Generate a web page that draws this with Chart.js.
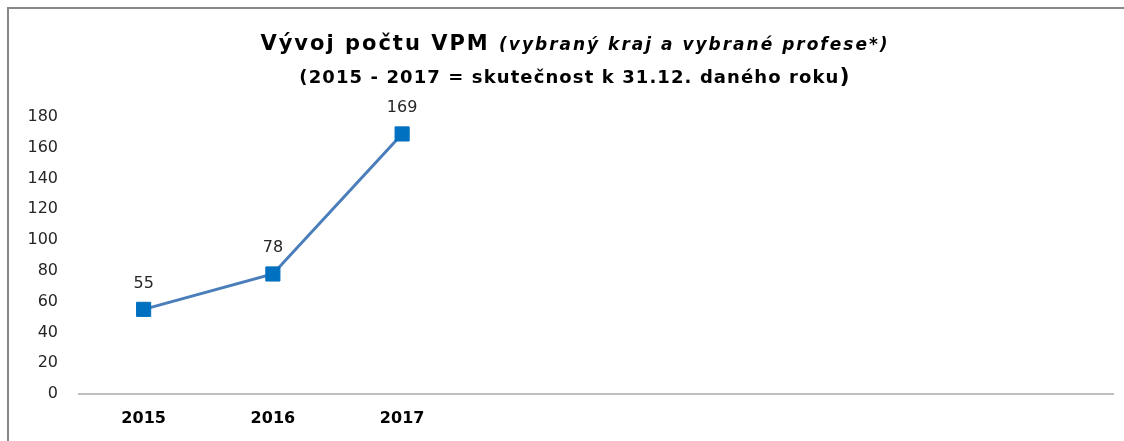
<!DOCTYPE html>
<html lang="cs">
<head>
  <meta charset="UTF-8">
  <title>Vývoj počtu VPM</title>
  <style>
    html, body {
      margin: 0;
      background: #ffffff;
      font-family: "DejaVu Sans", sans-serif;
      color: #000;
    }
    .chart-box {
      position: absolute;
      left: 0;
      top: 0;
      width: 1124px;
      height: 441px;
    }
    .title {
      position: absolute;
      left: 175px;
      width: 800px;
      text-align: center;
      font-weight: bold;
      white-space: nowrap;
      line-height: 1.2;
    }
    #t1 { top: 31px; font-size: 21px; letter-spacing: 2px; }
    #t1 i { font-size: 17px; }
    #t2 { top: 65px; font-size: 18px; letter-spacing: 1.1px; }
    #t2 span { font-size: 22px; line-height: 1; }
  </style>
</head>
<body>
<div class="chart-box">
  <canvas id="chart"></canvas>
</div>
<div class="title" id="t1">Vývoj počtu VPM <i>(vybraný kraj a vybrané profese*)</i></div>
<div class="title" id="t2">(2015 - 2017 = skutečnost k 31.12. daného roku<span>)</span></div>

<script src="https://cdn.jsdelivr.net/npm/chart.js"></script>
<script>
  // data
  const years = ['2015', '2016', '2017', '', '', '', '', ''];
  const vpmCounts = [55, 78, 169, null, null, null, null, null];
  const yTicks = [0, 20, 40, 60, 80, 100, 120, 140, 160, 180];

  // gray frame on the top and left edge, like the cropped source
  const frame = {
    id: 'frame',
    beforeDraw(chart) {
      const ctx = chart.ctx;
      ctx.save();
      ctx.strokeStyle = '#888888';
      ctx.lineWidth = 2;
      ctx.beginPath();
      ctx.moveTo(8, chart.height);
      ctx.lineTo(8, 8);
      ctx.lineTo(chart.width, 8);
      ctx.stroke();
      ctx.restore();
    }
  };

  // draws the value above each point
  const valueLabels = {
    id: 'valueLabels',
    afterDatasetsDraw(chart) {
      const ctx = chart.ctx;
      const meta = chart.getDatasetMeta(0);
      ctx.save();
      ctx.font = '16px "DejaVu Sans", sans-serif';
      ctx.fillStyle = '#262626';
      ctx.textAlign = 'center';
      ctx.textBaseline = 'middle';
      meta.data.forEach((pt, i) => {
        const v = chart.data.datasets[0].data[i];
        if (v == null) return;
        ctx.fillText(String(v), pt.x, pt.y - 26);
      });
      ctx.restore();
    }
  };

  const ctx = document.getElementById('chart').getContext('2d');
  const chart = new Chart(ctx, {
    type: 'line',
    data: {
      labels: years,
      datasets: [{
        data: vpmCounts,
        borderColor: '#4a7ebb',
        borderWidth: 3,
        pointStyle: 'rect',
        pointRadius: 10,
        pointHoverRadius: 10,
        pointBackgroundColor: '#0070c0',
        pointBorderColor: '#0070c0',
        pointBorderWidth: 1,
        spanGaps: false,
        tension: 0
      }]
    },
    options: {
      responsive: true,
      maintainAspectRatio: false,
      animation: false,
      layout: { padding: { top: 117, right: 9, left: 0, bottom: 0 } },
      plugins: {
        legend: { display: false },
        tooltip: { enabled: false }
      },
      scales: {
        x: {
          offset: true,
          grid: { display: false, drawTicks: false, offset: true },
          border: { display: true, color: '#bfbfbf', width: 2 },
          ticks: {
            color: '#000',
            padding: 15,
            maxRotation: 0,
            autoSkip: false,
            font: { family: '"DejaVu Sans", sans-serif', size: 16, weight: 'bold' }
          },
          afterFit(scale) { scale.height = 47; }
        },
        y: {
          min: 0,
          max: 180,
          grid: { display: false, drawTicks: false },
          border: { display: false },
          afterBuildTicks(scale) { scale.ticks = yTicks.map(v => ({ value: v })); },
          ticks: {
            color: '#262626',
            padding: 21,
            font: { family: '"DejaVu Sans", sans-serif', size: 16 }
          },
          afterFit(scale) { scale.width = 79; }
        }
      }
    },
    plugins: [frame, valueLabels]
  });
</script>
</body>
</html>
